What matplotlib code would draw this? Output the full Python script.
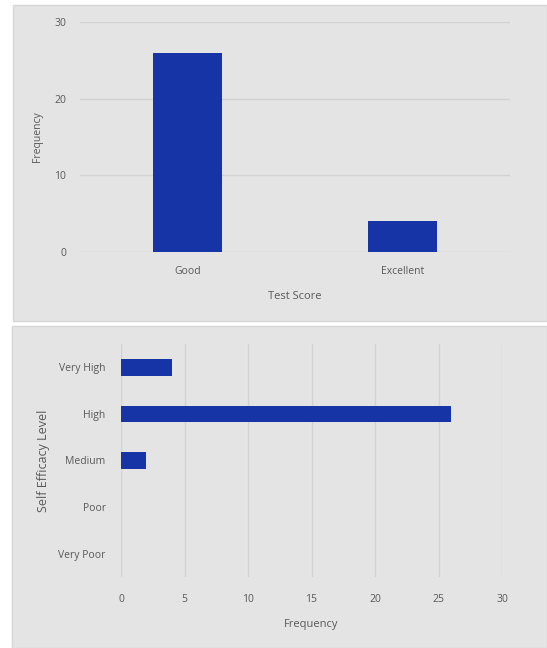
import matplotlib
matplotlib.use("Agg")
import matplotlib.pyplot as plt
from matplotlib.patches import Rectangle

plt.rcParams['font.family'] = ['Open Sans', 'DejaVu Sans']

# Data
test_categories = ["Good", "Excellent"]
test_values = [26, 4]
test_yticks = [0, 10, 20, 30]

efficacy_categories = ["Very High", "High", "Medium", "Poor", "Very Poor"]
efficacy_values = [4, 26, 2, 0, 0]
efficacy_xticks = [0, 5, 10, 15, 20, 25, 30]

W, H = 547, 648
fig = plt.figure(figsize=(W / 100, H / 100), dpi=100)
fig.patch.set_facecolor("white")

panel_color = "#e4e4e4"
edge_color = "#d6d6d6"
bar_color = "#1734a6"
grid_color = "#d2d2d2"
text_color = "#595959"

def fx(px):
    return px / W

def fy(py):
    return 1 - py / H

# Panels
fig.patches.append(Rectangle((fx(13), fy(321)), fx(547 - 13), (321 - 5) / H,
                             transform=fig.transFigure, facecolor=panel_color,
                             edgecolor=edge_color, lw=1, zorder=-5))
fig.patches.append(Rectangle((fx(12), fy(648)), fx(547 - 12), (648 - 326) / H,
                             transform=fig.transFigure, facecolor=panel_color,
                             edgecolor=edge_color, lw=1, zorder=-5))

# Top chart
ax1 = fig.add_axes([fx(80), fy(252), fx(510 - 80), (252 - 22) / H])
ax1.set_facecolor("none")
ax1.set_zorder(2)
x = list(range(len(test_categories)))
ax1.bar(x, test_values, width=0.32, color=bar_color, zorder=3)
ax1.set_xlim(-0.5, len(test_categories) - 0.5)
ax1.set_ylim(0, 30)
ax1.set_yticks(test_yticks)
ax1.set_xticks(x)
ax1.set_xticklabels(test_categories)
ax1.grid(axis="y", color=grid_color, lw=1, zorder=0)
ax1.set_axisbelow(True)
for s in ax1.spines.values():
    s.set_visible(False)
ax1.tick_params(length=0, labelsize=7.5, colors=text_color, pad=10)
ax1.tick_params(axis="x", pad=10)
ax1.set_xlabel("Test Score", fontsize=8, color=text_color, labelpad=10)
ax1.set_ylabel("Frequency", fontsize=7.5, color=text_color, labelpad=8)

# Bottom chart
ax2 = fig.add_axes([fx(121), fy(577), fx(502 - 121), (577 - 344) / H])
ax2.set_facecolor("none")
ax2.set_zorder(2)
y = list(range(len(efficacy_categories)))
ax2.barh(y, efficacy_values, height=0.36, color=bar_color, zorder=3)
ax2.set_ylim(len(efficacy_categories) - 0.5, -0.5)
ax2.set_xlim(0, 30)
ax2.set_xticks(efficacy_xticks)
ax2.set_yticks(y)
ax2.set_yticklabels(efficacy_categories)
ax2.grid(axis="x", color=grid_color, lw=1, zorder=0)
ax2.set_axisbelow(True)
for s in ax2.spines.values():
    s.set_visible(False)
ax2.tick_params(length=0, labelsize=7.5, colors=text_color, pad=11)
ax2.tick_params(axis="x", pad=12)
ax2.set_xlabel("Frequency", fontsize=8, color=text_color, labelpad=10)
ax2.set_ylabel("Self Efficacy Level", fontsize=9, color=text_color, labelpad=6)

fig.savefig("out.png", dpi=100, facecolor="white")
